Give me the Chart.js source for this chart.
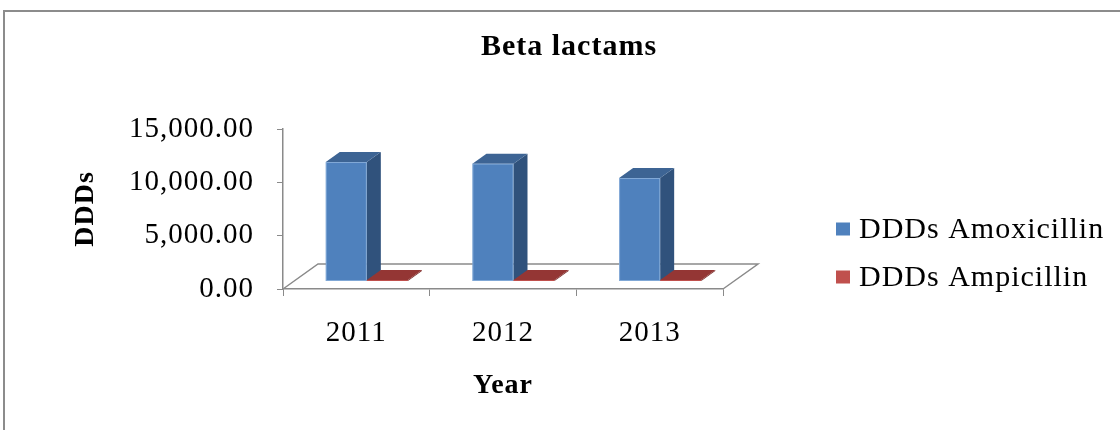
<!DOCTYPE html>
<html>
<head>
<meta charset="utf-8">
<script src="https://cdn.jsdelivr.net/npm/chart.js@4"></script>
<style>
  html, body { margin: 0; padding: 0; background: #ffffff; }
  #wrap { width: 1120px; height: 430px; position: relative; }
  canvas { display: block; }
</style>
</head>
<body>
<div id="wrap"><canvas id="c" width="1120" height="430"></canvas></div>
<script>
// ---- data ----
const years = ['2011', '2012', '2013'];
const amoxicillin = [11200, 11050, 9700];
const ampicillin = [120, 100, 130];
const seriesNames = ['DDDs Amoxicillin', 'DDDs Ampicillin'];
const yTickValues = [0, 5000, 10000, 15000];
const chartTitle = 'Beta lactams';
const yTitle = 'DDDs';
const xTitle = 'Year';

// ---- styling ----
const SERIF = "'Liberation Serif', 'Times New Roman', serif";
const frontColors = ['#4F81BD', '#C0504D'];
const topColors = ['#3D6494', '#943634'];
const sideColors = ['#30527C', '#7A2C2A'];
const AXIS = '#8a8a8a';
const FLOOR_DX = 35, FLOOR_DY = -25;   // depth of the 3D floor
const D0 = 0.3, D1 = 0.7;              // bar depth range (fraction of floor depth)

const frame3d = {
  id: 'frame3d',
  beforeDraw(chart) {
    const ctx = chart.ctx;
    try { ctx.letterSpacing = '1px'; } catch (e) {}
    ctx.save();
    ctx.strokeStyle = '#8c8c8c';
    ctx.lineWidth = 2;
    ctx.beginPath();
    ctx.moveTo(4, 430);
    ctx.lineTo(4, 11);
    ctx.lineTo(1120, 11);
    ctx.stroke();
    ctx.restore();
  },
  beforeDatasetsDraw(chart) {
    const ctx = chart.ctx;
    const ca = chart.chartArea;
    const y0 = chart.scales.y.getPixelForValue(0);
    // floor
    ctx.save();
    ctx.strokeStyle = AXIS;
    ctx.lineWidth = 1.5;
    ctx.beginPath();
    ctx.moveTo(ca.left, y0);
    ctx.lineTo(ca.left + FLOOR_DX, y0 + FLOOR_DY);
    ctx.lineTo(ca.right + FLOOR_DX, y0 + FLOOR_DY);
    ctx.lineTo(ca.right, y0);
    ctx.stroke();

    const ox = FLOOR_DX * D0, oy = FLOOR_DY * D0;
    const dx = FLOOR_DX * (D1 - D0), dy = FLOOR_DY * (D1 - D0);
    const n = chart.data.labels.length;
    for (let i = 0; i < n; i++) {
      chart.data.datasets.forEach((ds, d) => {
        const meta = chart.getDatasetMeta(d);
        if (meta.hidden) return;
        const el = meta.data[i];
        const p = el.getProps(['x', 'y', 'base', 'width'], true);
        const l = p.x - p.width / 2 + ox;
        const r = p.x + p.width / 2 + ox;
        let t = p.y + oy;
        const b = p.base + oy;
        if (b - t < 1) t = b - 1;
        // front
        ctx.fillStyle = frontColors[d];
        ctx.fillRect(l, t, r - l, b - t);
        // side
        ctx.fillStyle = sideColors[d];
        ctx.beginPath();
        ctx.moveTo(r, t);
        ctx.lineTo(r + dx, t + dy);
        ctx.lineTo(r + dx, b + dy);
        ctx.lineTo(r, b);
        ctx.closePath();
        ctx.fill();
        // top
        ctx.fillStyle = topColors[d];
        ctx.beginPath();
        ctx.moveTo(l, t);
        ctx.lineTo(l + dx, t + dy);
        ctx.lineTo(r + dx, t + dy);
        ctx.lineTo(r, t);
        ctx.closePath();
        ctx.fill();
        // faint light outline on the front face
        ctx.strokeStyle = 'rgba(170,200,235,0.55)';
        ctx.lineWidth = 1;
        if (b - t > 3) ctx.strokeRect(l + 0.5, t + 0.5, r - l - 1, b - t - 1);
      });
    }
    ctx.restore();
    return false;
  },
  afterDraw(chart) {
    // legend
    const ctx = chart.ctx;
    ctx.save();
    try { ctx.letterSpacing = '1px'; } catch (e) {}
    ctx.font = "30px " + SERIF;
    ctx.textBaseline = 'middle';
    ctx.textAlign = 'left';
    const ys = [229, 277];
    chart.data.datasets.forEach((ds, d) => {
      ctx.fillStyle = frontColors[d];
      ctx.fillRect(836, ys[d] - 6.5, 14, 13);
      ctx.fillStyle = '#000';
      ctx.fillText(ds.label, 859, ys[d] + 1);
    });
    ctx.restore();
  }
};

new Chart(document.getElementById('c'), {
  type: 'bar',
  data: {
    labels: years,
    datasets: [
      { label: seriesNames[0], data: amoxicillin, backgroundColor: frontColors[0] },
      { label: seriesNames[1], data: ampicillin, backgroundColor: frontColors[1] }
    ]
  },
  options: {
    responsive: false,
    animation: false,
    devicePixelRatio: 1,
    categoryPercentage: 0.56,
    barPercentage: 1.0,
    layout: { padding: { left: 18, right: 0, top: 0, bottom: 0 } },
    plugins: {
      legend: { display: false },
      tooltip: { enabled: false },
      title: {
        display: true,
        text: chartTitle,
        color: '#000',
        font: { family: SERIF, size: 30, weight: 'bold' },
        padding: { top: 29, bottom: 64 }
      }
    },
    scales: {
      x: {
        type: 'category',
        offset: true,
        grid: { drawOnChartArea: false, drawTicks: true, tickLength: 7, color: AXIS, offset: true },
        border: { display: true, color: AXIS, width: 1.5 },
        ticks: { color: '#000', font: { family: SERIF, size: 29 }, padding: 20 },
        title: { display: true, text: xTitle, color: '#000', font: { family: SERIF, size: 28, weight: 'bold' }, padding: { top: 0, bottom: 27 } },
        afterFit(s) { s.height = 141; }
      },
      y: {
        min: 0,
        max: 15000,
        afterBuildTicks(s) { s.ticks = yTickValues.map(v => ({ value: v })); },
        grid: { drawOnChartArea: false, drawTicks: true, tickLength: 6, color: AXIS },
        border: { display: true, color: AXIS, width: 1.5 },
        ticks: {
          color: '#000',
          font: { family: SERIF, size: 29 },
          padding: 23,
          callback: v => Number(v).toLocaleString('en-US', { minimumFractionDigits: 2, maximumFractionDigits: 2 })
        },
        title: { display: true, text: yTitle, color: '#000', font: { family: SERIF, size: 28, weight: 'bold' }, padding: { top: 51, bottom: 0 } },
        afterFit(s) { s.width = 265; }
      },
      legendSpace: {
        type: 'linear',
        axis: 'y',
        position: 'right',
        display: true,
        grid: { display: false, drawTicks: false },
        border: { display: false },
        ticks: { display: false },
        afterFit(s) { s.width = 397; }
      }
    }
  },
  plugins: [frame3d]
});
</script>
</body>
</html>
